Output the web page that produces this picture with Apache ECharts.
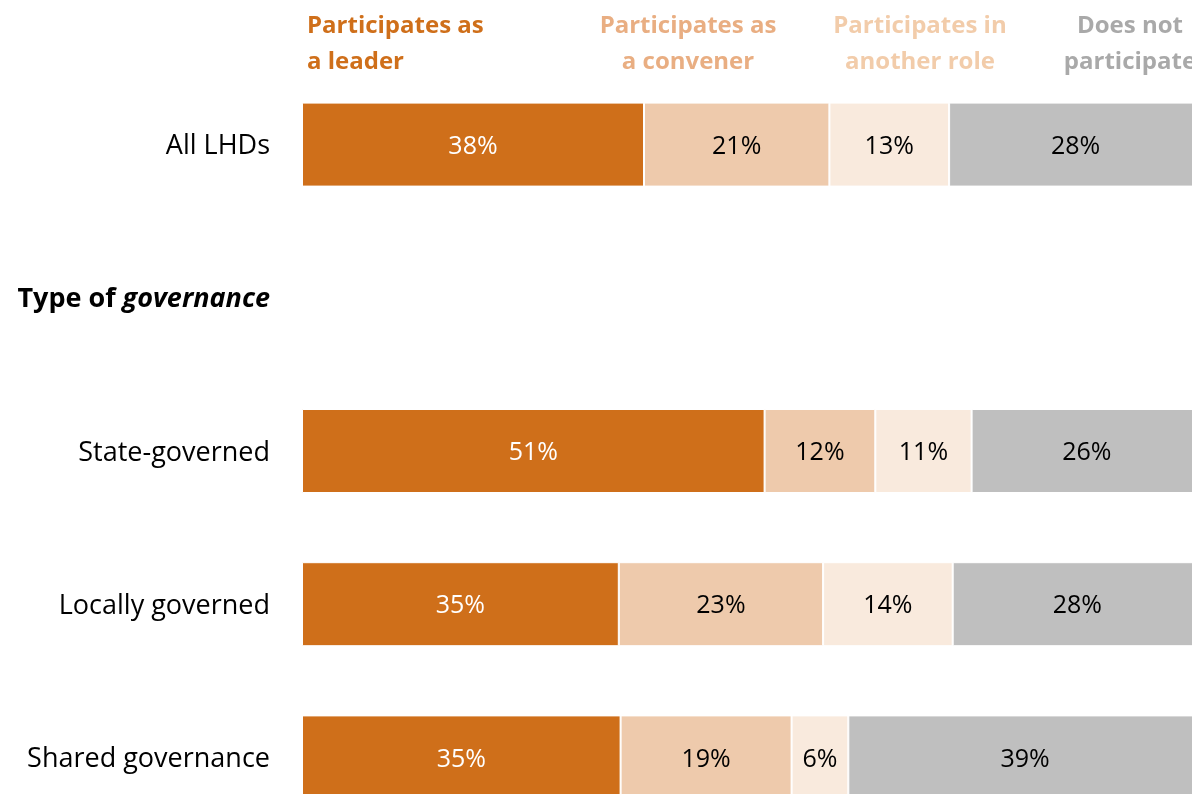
<!DOCTYPE html>
<html>
<head>
<meta charset="utf-8">
<script src="https://cdn.jsdelivr.net/npm/echarts@6/dist/echarts.min.js"></script>
<style>
html,body{margin:0;padding:0;background:#fff;overflow:hidden;}
#chart{width:1212px;height:840px;}
</style>
</head>
<body>
<div id="chart"></div>
<script>
const categories = ['All LHDs', 'Type of governance', 'State-governed', 'Locally governed', 'Shared governance'];
const seriesNames = ['Participates as a leader', 'Participates as a convener', 'Participates in another role', 'Does not participate'];
const leader   = [38.0, null, 51.4, 35.2, 35.4];
const convener = [20.6, null, 12.3, 22.7, 19.0];
const another  = [13.3, null, 10.7, 14.4, 6.3];
const doesNot  = [28.1, null, 25.6, 27.7, 39.3];
const legendLines = [['Participates as', 'a leader'], ['Participates as', 'a convener'], ['Participates in', 'another role'], ['Does not', 'participate']];

const barColors = ['#CF6F1A', '#EECAAC', '#F9EADD', '#BFBFBF'];
const legendColors = ['#CF6F1A', '#E9AE82', '#F2CCAA', '#A9A9A9'];
const labelColors = ['#FFFFFF', '#000000', '#000000', '#000000'];
const FONT = '"Open Sans"';

const chart = echarts.init(document.getElementById('chart'));
const values = [leader, convener, another, doesNot];

const series = values.map((arr, i) => ({
  name: seriesNames[i],
  type: 'bar',
  stack: 'total',
  barWidth: 84,
  data: arr,
  itemStyle: { color: barColors[i], borderColor: '#ffffff', borderWidth: 1 },
  label: {
    show: true,
    position: 'inside',
    color: labelColors[i],
    fontFamily: FONT,
    fontSize: 25,
    offset: [0, 2],
    formatter: p => p.value == null ? '' : Math.round(p.value) + '%'
  },
  emphasis: { disabled: true }
}));

const legendX = [307, 688, 920, 1130];
const legendAlign = ['left', 'center', 'center', 'center'];
const graphics = [];
legendLines.forEach((lines, i) => {
  graphics.push({
    type: 'text',
    x: legendX[i],
    y: 8,
    silent: true,
    style: {
      text: lines.join('\n'),
      fill: legendColors[i],
      font: 'bold 24px ' + FONT,
      lineHeight: 36,
      align: legendAlign[i],
      verticalAlign: 'top'
    }
  });
});

chart.setOption({
  animation: false,
  grid: { left: 302, top: 68, width: 900, height: 766, containLabel: false },
  xAxis: { type: 'value', min: 0, max: 100, show: false },
  yAxis: {
    type: 'category',
    inverse: true,
    data: categories,
    axisLine: { show: false },
    axisTick: { show: false },
    splitLine: { show: false },
    axisLabel: {
      margin: 32,
      color: '#000',
      fontFamily: FONT,
      fontSize: 27,
      padding: [4, 0, 0, 0],
      formatter: v => v === 'Type of governance' ? '{b|Type of }{bi|governance}' : v,
      rich: {
        b: { fontFamily: FONT, fontSize: 27, fontWeight: 'bold', color: '#000' },
        bi: { fontFamily: FONT, fontSize: 27, fontWeight: 'bold', fontStyle: 'italic', color: '#000' }
      }
    }
  },
  series: series,
  graphic: graphics
});
</script>
</body>
</html>
